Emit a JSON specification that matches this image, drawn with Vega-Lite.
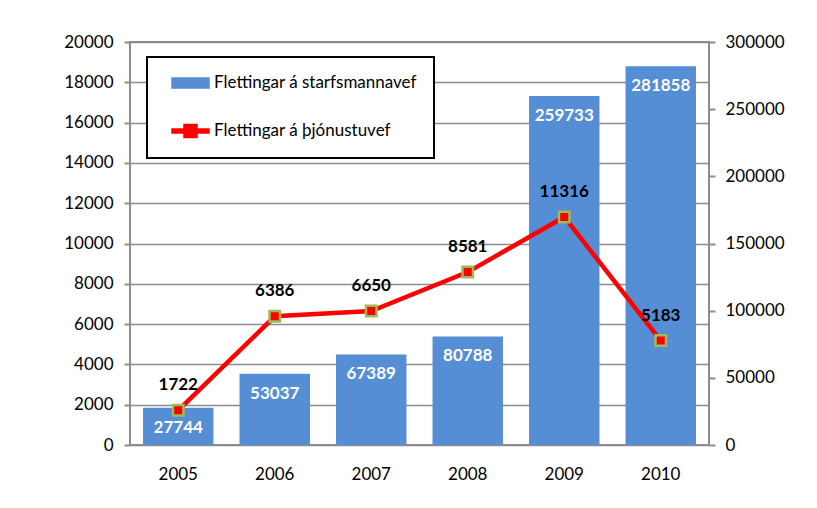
{
  "$schema": "https://vega.github.io/schema/vega-lite/v6.json",
  "width": 579,
  "height": 403,
  "autosize": "none",
  "padding": {"left": 130, "top": 42, "right": 108, "bottom": 63},
  "background": "white",
  "config": {
    "font": "Lato",
    "view": {"stroke": "#8c8c8c", "strokeWidth": 2},
    "axis": {
      "labelFont": "Lato",
      "labelFontSize": 17,
      "labelColor": "#000000",
      "domainColor": "#8c8c8c",
      "domainWidth": 2,
      "tickColor": "#8c8c8c",
      "tickWidth": 2,
      "tickSize": 6,
      "gridColor": "#8c8c8c",
      "gridWidth": 1.5,
      "title": null
    },
    "legend": {
      "orient": "none",
      "legendX": 17,
      "legendY": 15,
      "strokeColor": "#000000",
      "strokeWidth": 2,
      "fillColor": "#ffffff",
      "padding": 17,
      "symbolOffset": 17.5,
      "rowPadding": 30,
      "labelOffset": 14.5,
      "labelFont": "Lato",
      "labelFontSize": 17,
      "labelColor": "#000000",
      "labelLimit": 400,
      "symbolSize": 256,
      "title": null
    }
  },
  "data": {
    "values": [
      {"year": "2005", "starfs": 27744, "thjon": 1722},
      {"year": "2006", "starfs": 53037, "thjon": 6386},
      {"year": "2007", "starfs": 67389, "thjon": 6650},
      {"year": "2008", "starfs": 80788, "thjon": 8581},
      {"year": "2009", "starfs": 259733, "thjon": 11316},
      {"year": "2010", "starfs": 281858, "thjon": 5183}
    ]
  },
  "encoding": {
    "x": {
      "field": "year",
      "type": "ordinal",
      "scale": {"paddingInner": 0.27, "paddingOuter": 0.135},
      "axis": {"labelAngle": 0, "domain": false, "ticks": false, "labelPadding": 21, "title": null}
    }
  },
  "layer": [
    {
      "encoding": {
        "y": {
          "field": "starfs",
          "type": "quantitative",
          "scale": {"domain": [0, 300000], "nice": false},
          "axis": {"orient": "right", "values": [0, 50000, 100000, 150000, 200000, 250000, 300000], "grid": false, "format": "d", "labelPadding": 10, "domain": false, "title": null}
        }
      },
      "layer": [
        {
          "mark": {"type": "bar", "color": "#558ED5"},
          "encoding": {
            "color": {
              "datum": "Flettingar á starfsmannavef",
              "scale": {"domain": ["Flettingar á starfsmannavef", "Flettingar á þjónustuvef"], "range": ["#558ED5", "#FF0000"]},
              "legend": {
                "encode": {
                  "symbols": {
                    "update": {
                      "shape": [
                        {"test": "datum.value === 'Flettingar á starfsmannavef'", "value": "M-2.3125,-0.625H2.3125V0.625H-2.3125Z"},
                        {"value": "M-2.3125,-0.25H2.3125V0.25H-2.3125Z M-0.8125,-0.8125H0.8125V0.8125H-0.8125Z"}
                      ],
                      "fill": [
                        {"test": "datum.value === 'Flettingar á starfsmannavef'", "value": "#558ED5"},
                        {"value": "#FF0000"}
                      ],
                      "stroke": {"value": "transparent"},
                      "opacity": {"value": 1},
                      "fillOpacity": {"value": 1}
                    }
                  }
                }
              }
            }
          }
        },
        {
          "mark": {"type": "text", "baseline": "middle", "dy": 20, "color": "#ffffff", "fontWeight": "bold", "fontSize": 17, "font": "Lato"},
          "encoding": {"text": {"field": "starfs", "type": "quantitative", "format": "d"}}
        }
      ]
    },
    {
      "encoding": {
        "y": {
          "field": "thjon",
          "type": "quantitative",
          "scale": {"domain": [0, 20000], "nice": false},
          "axis": {"orient": "left", "values": [0, 2000, 4000, 6000, 8000, 10000, 12000, 14000, 16000, 18000, 20000], "grid": true, "format": "d", "labelPadding": 11, "domain": false, "title": null}
        }
      },
      "layer": [
        {
          "mark": {"type": "line", "strokeWidth": 4.5},
          "encoding": {"color": {"datum": "Flettingar á þjónustuvef"}}
        },
        {
          "mark": {"type": "point", "shape": "square", "filled": true, "size": 110, "fill": "#FF0000", "stroke": "#9BBB59", "strokeWidth": 2.5, "opacity": 1}
        },
        {
          "mark": {"type": "text", "baseline": "middle", "dy": -25, "color": "#000000", "fontWeight": "bold", "fontSize": 17, "font": "Lato"},
          "encoding": {"text": {"field": "thjon", "type": "quantitative", "format": "d"}}
        }
      ]
    }
  ],
  "resolve": {"scale": {"y": "independent"}}
}
